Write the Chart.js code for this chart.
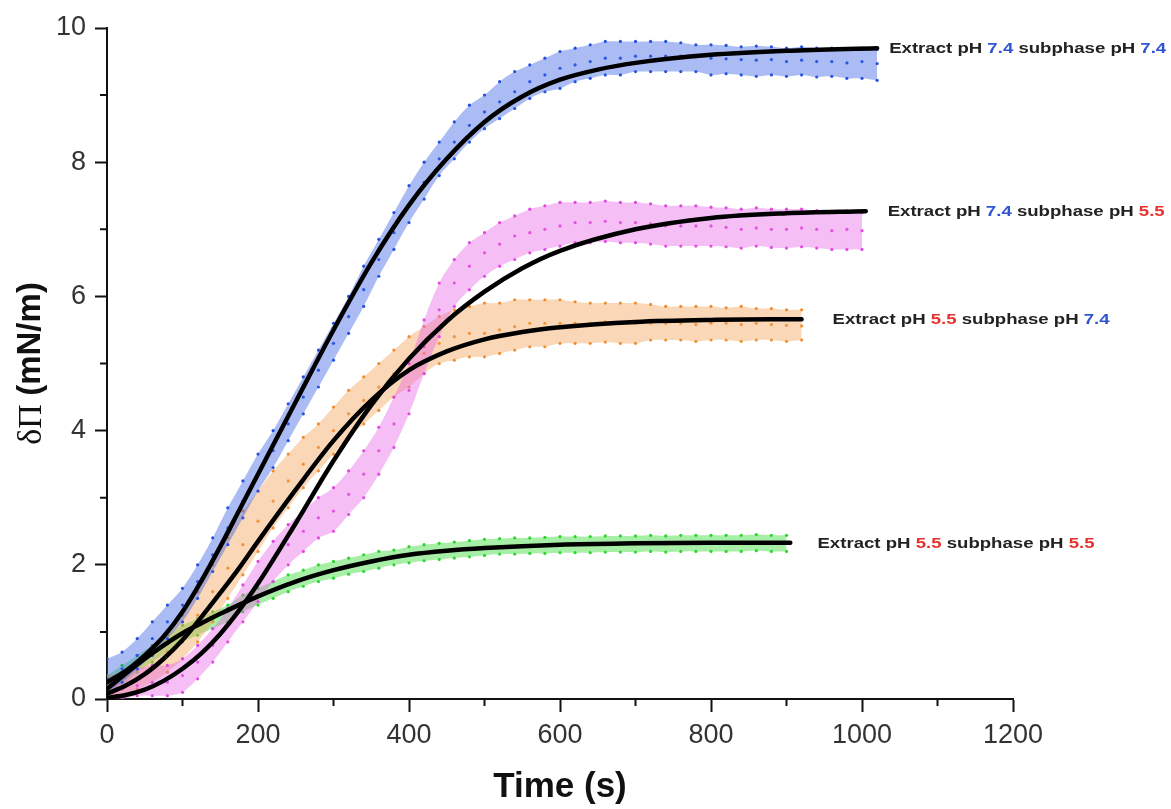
<!DOCTYPE html>
<html lang="en">
<head>
    <meta charset="UTF-8">
    <title>Surface pressure kinetics</title>
    <script src="https://cdn.jsdelivr.net/npm/chart.js@4.4.0/dist/chart.umd.min.js"></script>
    <style>
        body { margin: 0; background: #fff; }
        #wrap { width: 1171px; height: 809px; position: relative; }
    </style>
</head>
<body>
    <div id="wrap"><canvas id="kinetics"></canvas></div>

    <script>
        // sampling times of the measured clouds (s)
        const times = [0,20,40,60,80,100,120,140,160,180,200,220,240,260,280,300,320,340,360,380,
                       400,420,440,460,480,500,520,540,560,580,600,620,640,660,680,700,720,740,760,780,
                       800,820,840,860,880,900,920,940,960,980,1000,1020];

        // Extract pH 7.4 / subphase pH 7.4 (blue) - lower edge, centre, upper edge of the cloud
        const blueLo  = [0.1,0.25,0.45,0.65,0.9,1.15,1.5,1.9,2.3,2.7,3.1,3.45,3.85,4.25,4.65,5.05,5.45,5.85,6.3,6.7,
                         7.1,7.45,7.8,8.05,8.3,8.5,8.65,8.8,8.95,9.05,9.1,9.2,9.25,9.3,9.3,9.35,9.35,9.35,9.35,9.35,
                         9.3,9.32,9.3,9.28,9.3,9.28,9.3,9.27,9.28,9.25,9.25,9.22];
        const blueMid = [0.3,0.45,0.65,0.9,1.15,1.4,1.75,2.15,2.55,2.95,3.35,3.7,4.1,4.5,4.9,5.3,5.7,6.1,6.55,6.95,
                         7.35,7.7,8.05,8.3,8.55,8.75,8.9,9.05,9.2,9.3,9.4,9.45,9.5,9.55,9.55,9.58,9.58,9.58,9.58,9.57,
                         9.55,9.54,9.53,9.52,9.53,9.5,9.52,9.5,9.5,9.48,9.5,9.47];
        const blueHi  = [0.6,0.7,0.9,1.15,1.4,1.65,2.0,2.4,2.85,3.25,3.65,4.0,4.4,4.8,5.2,5.6,6.0,6.45,6.85,7.25,
                         7.65,8.0,8.3,8.6,8.85,9.0,9.2,9.35,9.45,9.55,9.65,9.7,9.75,9.8,9.8,9.8,9.8,9.8,9.78,9.75,
                         9.75,9.74,9.72,9.73,9.72,9.7,9.72,9.7,9.7,9.68,9.7,9.68];

        // Extract pH 7.4 / subphase pH 5.5 (magenta)
        const magLo  = [0,0,0.05,0.05,0.05,0.1,0.3,0.55,0.85,1.15,1.45,1.75,2.0,2.2,2.4,2.5,2.75,3.0,3.35,3.75,
                        4.25,4.85,5.4,5.85,6.1,6.3,6.45,6.55,6.65,6.7,6.75,6.8,6.8,6.82,6.8,6.8,6.78,6.75,6.75,6.75,
                        6.75,6.74,6.72,6.75,6.73,6.72,6.74,6.72,6.7,6.7,6.7];
        const magMid = [0.1,0.15,0.2,0.25,0.25,0.35,0.55,0.8,1.1,1.4,1.75,2.05,2.3,2.5,2.7,2.8,3.05,3.35,3.7,4.1,
                        4.6,5.25,5.8,6.2,6.45,6.65,6.78,6.9,6.95,7.0,7.05,7.1,7.1,7.12,7.1,7.1,7.08,7.05,7.05,7.05,
                        7.05,7.03,7.0,7.02,7.0,7.0,7.02,7.0,6.98,7.0,6.98];
        const magHi  = [0.3,0.35,0.45,0.5,0.5,0.6,0.8,1.05,1.35,1.7,2.05,2.35,2.6,2.8,3.0,3.15,3.4,3.7,4.05,4.5,
                        5.0,5.65,6.2,6.55,6.8,6.95,7.1,7.2,7.3,7.35,7.4,7.4,7.4,7.42,7.4,7.4,7.38,7.35,7.35,7.35,
                        7.33,7.32,7.3,7.32,7.3,7.3,7.3,7.28,7.27,7.28,7.25];

        // Extract pH 5.5 / subphase pH 7.4 (orange)
        const orLo  = [0,0.05,0.15,0.25,0.4,0.6,0.85,1.15,1.5,1.85,2.2,2.55,2.85,3.15,3.4,3.65,3.9,4.1,4.3,4.5,
                       4.65,4.85,5.0,5.05,5.1,5.1,5.15,5.2,5.25,5.25,5.3,5.3,5.3,5.32,5.3,5.3,5.35,5.35,5.35,5.33,
                       5.35,5.35,5.33,5.35,5.35,5.33,5.35];
        const orMid = [0.15,0.2,0.3,0.45,0.7,0.95,1.25,1.6,1.95,2.3,2.65,2.95,3.25,3.5,3.75,4.0,4.25,4.45,4.65,4.85,
                       5.0,5.15,5.3,5.4,5.45,5.45,5.5,5.55,5.6,5.6,5.6,5.6,5.6,5.62,5.6,5.6,5.6,5.6,5.6,5.58,
                       5.6,5.6,5.58,5.6,5.58,5.57,5.56];
        const orHi  = [0.35,0.4,0.5,0.7,0.95,1.25,1.6,2.0,2.4,2.8,3.1,3.4,3.65,3.9,4.1,4.35,4.6,4.8,5.0,5.2,
                       5.4,5.55,5.7,5.8,5.85,5.9,5.9,5.95,5.95,5.95,5.95,5.92,5.9,5.9,5.9,5.9,5.88,5.85,5.85,5.85,
                       5.85,5.83,5.85,5.82,5.82,5.8,5.8];

        // Extract pH 5.5 / subphase pH 5.5 (green)
        const grLo  = [0.05,0.2,0.4,0.55,0.7,0.85,0.95,1.05,1.15,1.3,1.4,1.5,1.6,1.68,1.75,1.8,1.86,1.9,1.95,2.0,
                       2.03,2.06,2.08,2.1,2.12,2.14,2.16,2.16,2.17,2.17,2.18,2.18,2.18,2.19,2.19,2.19,2.2,2.19,2.2,2.2,
                       2.2,2.2,2.2,2.21,2.2,2.2];
        const grMid = [0.2,0.35,0.52,0.68,0.82,0.97,1.08,1.18,1.3,1.42,1.52,1.62,1.72,1.8,1.87,1.93,1.98,2.03,2.07,2.11,
                       2.15,2.18,2.2,2.22,2.24,2.26,2.27,2.28,2.28,2.29,2.3,2.3,2.3,2.31,2.31,2.31,2.32,2.31,2.32,2.32,
                       2.32,2.32,2.32,2.33,2.32,2.32];
        const grHi  = [0.35,0.5,0.65,0.8,0.95,1.1,1.2,1.3,1.4,1.55,1.65,1.75,1.85,1.92,2.0,2.05,2.1,2.15,2.2,2.22,
                       2.27,2.3,2.32,2.34,2.36,2.38,2.39,2.4,2.4,2.41,2.42,2.42,2.42,2.43,2.43,2.43,2.44,2.43,2.44,2.44,
                       2.44,2.44,2.44,2.45,2.44,2.44];

        // fitted curves (black)
        const blueFitT = [0,25,50,75,100,125,150,175,200,250,300,350,400,450,500,550,600,650,700,800,900,1020];
        const blueFit  = [0.25,0.42,0.65,0.93,1.3,1.76,2.27,2.81,3.35,4.43,5.5,6.5,7.36,8.05,8.6,8.98,9.23,9.38,9.48,9.6,9.66,9.7];
        const magFitT  = [0,25,50,75,100,125,150,175,200,250,300,350,400,450,500,550,600,700,800,900,1005];
        const magFit   = [0.02,0.06,0.14,0.27,0.45,0.68,0.97,1.32,1.72,2.62,3.55,4.38,5.07,5.63,6.07,6.42,6.68,7.0,7.17,7.24,7.27];
        const orFitT   = [0,25,50,75,100,125,150,175,200,250,300,350,400,450,500,550,600,700,800,920];
        const orFit    = [0.08,0.2,0.37,0.6,0.88,1.22,1.58,1.95,2.35,3.12,3.85,4.45,4.9,5.18,5.36,5.47,5.54,5.62,5.65,5.66];
        const grFitT   = [0,25,50,75,100,125,150,200,250,300,350,400,450,500,600,700,800,905];
        const grFit    = [0.15,0.38,0.6,0.8,0.98,1.13,1.27,1.53,1.75,1.92,2.05,2.15,2.21,2.25,2.3,2.32,2.33,2.33];

        const xTicks = [0,200,400,600,800,1000,1200];
        const yTicks = [0,2,4,6,8,10];

        // curve labels: [extract pH, subphase pH], x anchor (s)
        const labelPH = [['7.4','7.4'], ['7.4','5.5'], ['5.5','7.4'], ['5.5','5.5']];
        const labelX  = [1036, 1034, 961, 941];

        const phColor = { '7.4': '#2f55d4', '5.5': '#e8312f' };

        function pts(xs, ys) {
            return ys.map((y, i) => ({ x: xs[i], y: y }));
        }

        const series = [
            { lo: blueLo, mid: blueMid, hi: blueHi, fitT: blueFitT, fit: blueFit, color: 'rgb(35,80,225)',  band: 'rgba(55,95,230,0.42)' },
            { lo: magLo,  mid: magMid,  hi: magHi,  fitT: magFitT,  fit: magFit,  color: 'rgb(225,70,225)', band: 'rgba(232,100,232,0.42)' },
            { lo: orLo,   mid: orMid,   hi: orHi,   fitT: orFitT,   fit: orFit,   color: 'rgb(240,140,45)', band: 'rgba(243,160,80,0.42)' },
            { lo: grLo,   mid: grMid,   hi: grHi,   fitT: grFitT,   fit: grFit,   color: 'rgb(40,215,40)',  band: 'rgba(60,220,60,0.45)' }
        ];

        const datasets = [];
        series.forEach((s, k) => {
            const dot = { pointRadius: 1.6, pointBorderWidth: 0, pointBackgroundColor: s.color, order: 2 + k };
            datasets.push(Object.assign({ data: pts(times, s.hi), showLine: true, borderWidth: 0, borderColor: 'transparent',
                fill: '+1', backgroundColor: s.band, tension: 0.3 }, dot));
            datasets.push(Object.assign({ data: pts(times, s.lo), showLine: true, borderWidth: 0, borderColor: 'transparent',
                fill: false, tension: 0.3 }, dot));
            datasets.push(Object.assign({ data: pts(times, s.mid), showLine: false }, dot));
        });
        series.forEach(s => {
            datasets.push({
                data: pts(s.fitT, s.fit), showLine: true, borderColor: '#000', borderWidth: 4.5,
                borderCapStyle: 'round', pointRadius: 0, cubicInterpolationMode: 'monotone', fill: false, order: 0
            });
        });

        // short minor ticks between the labelled ones
        const minorTicks = {
            id: 'minorTicks',
            afterDraw(chart) {
                const ctx = chart.ctx, xs = chart.scales.x, ys = chart.scales.y;
                ctx.save();
                ctx.strokeStyle = '#111';
                ctx.lineWidth = 2;
                ctx.beginPath();
                for (let i = 0; i < xTicks.length - 1; i++) {
                    const px = xs.getPixelForValue((xTicks[i] + xTicks[i + 1]) / 2);
                    ctx.moveTo(px, ys.bottom); ctx.lineTo(px, ys.bottom + 7);
                }
                for (let i = 0; i < yTicks.length - 1; i++) {
                    const py = ys.getPixelForValue((yTicks[i] + yTicks[i + 1]) / 2);
                    ctx.moveTo(xs.left, py); ctx.lineTo(xs.left - 7, py);
                }
                ctx.stroke();
                ctx.restore();
            }
        };

        // y title: serif delta-Pi followed by the bold sans unit
        const yTitle = {
            id: 'yTitle',
            afterDraw(chart) {
                const ctx = chart.ctx, ys = chart.scales.y;
                const sym = 'δΠ ', unit = '(mN/m)';
                ctx.save();
                ctx.translate(31, (ys.top + ys.bottom) / 2);
                ctx.rotate(-Math.PI / 2);
                ctx.textBaseline = 'middle';
                ctx.fillStyle = '#111';
                ctx.font = '34px "Liberation Serif", "Times New Roman", serif';
                const w1 = ctx.measureText(sym).width;
                ctx.font = 'bold 33px "Liberation Sans", Arial, sans-serif';
                const w2 = ctx.measureText(unit).width;
                let x = -(w1 + w2) / 2;
                ctx.font = '34px "Liberation Serif", "Times New Roman", serif';
                ctx.fillText(sym, x, 1);
                ctx.font = 'bold 33px "Liberation Sans", Arial, sans-serif';
                ctx.fillText(unit, x + w1, 0);
                ctx.restore();
            }
        };

        // "Extract pH .. subphase pH .." labels next to each fit end
        const curveLabels = {
            id: 'curveLabels',
            afterDraw(chart) {
                const ctx = chart.ctx, xs = chart.scales.x, ys = chart.scales.y;
                ctx.save();
                ctx.font = 'bold 15px "Liberation Sans", Arial, sans-serif';
                ctx.textBaseline = 'middle';
                series.forEach((s, k) => {
                    const parts = [['Extract pH ', '#222'], [labelPH[k][0], phColor[labelPH[k][0]]],
                                   [' subphase pH ', '#222'], [labelPH[k][1], phColor[labelPH[k][1]]]];
                    ctx.save();
                    ctx.translate(xs.getPixelForValue(labelX[k]), ys.getPixelForValue(s.fit[s.fit.length - 1]) + 1);
                    ctx.scale(1.24, 1);
                    let x = 0;
                    parts.forEach(p => {
                        ctx.fillStyle = p[1];
                        ctx.fillText(p[0], x, 0);
                        x += ctx.measureText(p[0]).width;
                    });
                    ctx.restore();
                });
                ctx.restore();
            }
        };

        const axisFont = { family: '"Liberation Sans", Arial, sans-serif', size: 27 };

        new Chart(document.getElementById('kinetics'), {
            type: 'line',
            data: { datasets: datasets },
            options: {
                responsive: true,
                maintainAspectRatio: false,
                animation: false,
                layout: { padding: { left: 0, right: 158, top: 28, bottom: 0 } },
                plugins: { legend: { display: false }, tooltip: { enabled: false } },
                scales: {
                    x: {
                        type: 'linear', min: 0, max: 1200,
                        afterFit: scale => { scale.height = 110; },
                        afterBuildTicks: scale => { scale.ticks = xTicks.map(v => ({ value: v })); },
                        ticks: { font: axisFont, color: '#333', padding: 7, maxRotation: 0, callback: v => String(v) },
                        grid: { drawOnChartArea: false, drawTicks: true, tickLength: 13, tickWidth: 2, tickColor: '#111' },
                        border: { color: '#111', width: 2 },
                        title: { display: true, text: 'Time (s)', color: '#111', padding: { top: 0, bottom: 1 },
                                 font: { family: '"Liberation Sans", Arial, sans-serif', size: 35, weight: 'bold' } }
                    },
                    y: {
                        min: 0, max: 10,
                        afterFit: scale => { scale.width = 107; },
                        afterBuildTicks: scale => { scale.ticks = yTicks.map(v => ({ value: v })); },
                        ticks: { font: axisFont, color: '#333', padding: 9, callback: v => String(v) },
                        grid: { drawOnChartArea: false, drawTicks: true, tickLength: 12, tickWidth: 2, tickColor: '#111' },
                        border: { color: '#111', width: 2 },
                        title: { display: false }
                    }
                }
            },
            plugins: [minorTicks, yTitle, curveLabels]
        });
    </script>
</body>
</html>
